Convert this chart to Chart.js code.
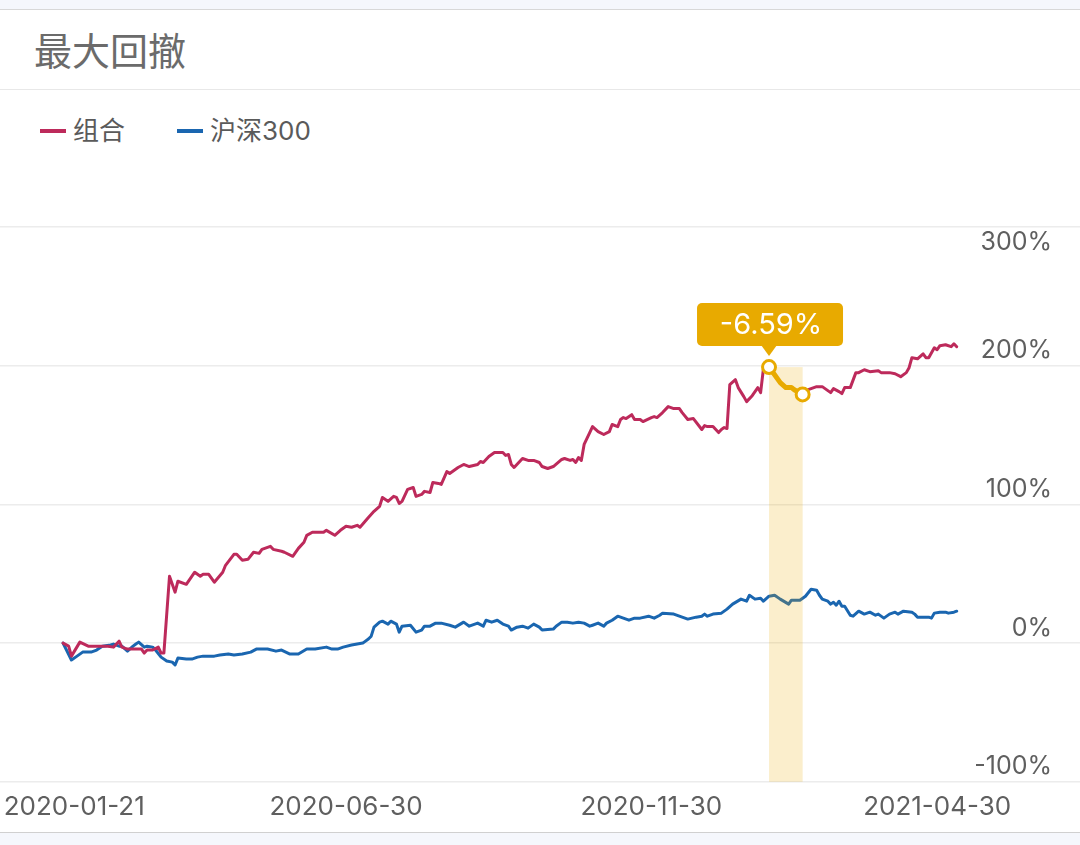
<!DOCTYPE html>
<html>
<head>
<meta charset="utf-8">
<script src="https://cdn.jsdelivr.net/npm/chart.js@4.4.0/dist/chart.umd.min.js"></script>
<style>
  html, body { margin: 0; padding: 0; background: #fff; }
  body { width: 1080px; height: 845px; position: relative; overflow: hidden;
         font-family: Inter, "Noto Sans CJK SC", sans-serif; }
  .topbar { position: absolute; left: 0; top: 0; width: 1080px; height: 9px;
            background: #f5f7fc; border-bottom: 1px solid #d8d8d8; }
  .title { position: absolute; left: 34px; top: 26px; font-size: 38px; line-height: 46px;
           color: #6b6b6b; font-family: "Noto Sans CJK SC", sans-serif; }
  .sep { position: absolute; left: 0; top: 89px; width: 1080px; height: 1px; background: #e8e8e8; }
  .legend { position: absolute; top: 113px; left: 40px; font-size: 26px; line-height: 36px; color: #5a5a5a; }
  .legend span.item { position: absolute; white-space: nowrap; }
  .legend i { display: inline-block; width: 26px; height: 4px; vertical-align: middle;
              margin-right: 7px; position: relative; top: -2px; }
  .bottombar { position: absolute; left: 0; top: 832px; width: 1080px; height: 13px;
               background: #f5f7fc; border-top: 1px solid #d0d0d0; }
  #wrap { position: absolute; left: 0; top: 180px; width: 1080px; height: 652px; }
</style>
</head>
<body>
<div class="topbar"></div>
<div class="title">最大回撤</div>
<div class="sep"></div>
<div class="legend">
  <span class="item" style="left:0"><i style="background:#bd2a5b"></i>组合</span>
  <span class="item" style="left:137px"><i style="background:#1a66b0"></i>沪深300</span>
</div>
<div id="wrap"><canvas id="chart"></canvas></div>
<div class="bottombar"></div>

<script>
// trading-day index (0 = first day) and cumulative return in %
const redDays = [
  0, 2, 3, 6, 9, 16, 18, 20, 21, 23,
  28, 29, 30, 32, 34, 35, 36, 38, 40, 41,
  44, 47, 49, 50, 52, 54, 57, 58, 61, 62,
  64, 66, 68, 70, 71, 74, 75, 78, 79, 82,
  84, 86, 87, 89, 93, 94, 97, 99, 101, 103,
  105, 106, 109, 111, 113, 114, 116, 118, 119, 120,
  121, 123, 125, 126, 128, 129, 131, 132, 134, 135,
  137, 138, 141, 143, 145, 148, 149, 150, 152, 154,
  157, 158, 159, 160, 161, 164, 166, 168, 170, 171,
  173, 175, 178, 179, 181, 182, 183, 184, 185, 186,
  188, 189, 191, 193, 195, 196, 198, 199, 200, 201,
  203, 204, 206, 207, 210, 211, 212, 214, 216, 218,
  220, 221, 223, 225, 228, 229, 230, 232, 234, 235,
  236, 237, 238, 240, 241, 243, 244, 246, 247, 248,
  249, 250, 251, 252, 254, 256, 258, 260, 261, 264,
  266, 269, 271, 274, 275, 277, 278, 279, 281, 283,
  284, 286, 288, 291, 292, 295, 297, 299, 301, 302,
  303, 305, 307, 308, 309, 311, 312, 313, 315, 317,
  318, 319
];
const redValues = [
  0, -2.2, -9.4, 0.7, -2.2, -2.2, -2.9, 1.4, -2.9, -4.3,
  -4.3, -7.2, -5.0, -5.0, -2.9, -7.2, -7.2, 48.2, 36.7, 44.6,
  42.4, 51.1, 48.2, 49.6, 49.6, 43.9, 51.1, 56.1, 64.0, 64.0,
  59.7, 60.4, 65.5, 64.7, 67.6, 69.8, 67.6, 66.2, 65.5, 62.6,
  68.3, 72.7, 77.7, 79.9, 79.9, 81.3, 77.7, 81.3, 84.2, 83.5,
  84.9, 83.5, 90.6, 95.0, 98.6, 105.0, 102.2, 105.8, 105.0, 100.7,
  102.2, 110.8, 112.2, 105.8, 107.2, 109.4, 108.6, 115.8, 115.1, 114.4,
  123.7, 122.3, 126.6, 128.8, 127.3, 128.8, 130.9, 130.2, 134.5, 137.4,
  137.4, 135.3, 136.0, 128.8, 126.6, 133.1, 131.7, 131.7, 130.2, 127.3,
  125.9, 127.3, 132.4, 133.1, 131.7, 132.4, 130.2, 133.8, 131.7, 143.2,
  151.8, 156.1, 152.5, 150.4, 152.5, 157.6, 156.1, 161.2, 162.6, 161.9,
  164.7, 161.2, 161.2, 159.7, 162.6, 163.3, 162.6, 166.2, 170.5, 169.1,
  169.1, 166.2, 161.2, 161.9, 154.0, 156.8, 156.1, 156.1, 151.8, 154.0,
  155.4, 154.7, 186.3, 189.9, 184.2, 177.7, 174.1, 178.4, 181.3, 184.2,
  180.6, 197.8, 197.8, 199.0, 193.5, 187.8, 184.2, 184.2, 182.7, 179.3,
  182.7, 184.9, 184.9, 180.6, 183.5, 181.3, 179.9, 184.2, 184.2, 195.0,
  195.0, 197.1, 195.7, 196.4, 195.0, 195.0, 194.2, 192.1, 195.0, 198.6,
  205.8, 205.0, 208.6, 205.8, 205.8, 212.9, 211.5, 214.4, 215.1, 213.7,
  215.8, 213.7
];
const blueDays = [
  0, 3, 5, 7, 10, 12, 14, 17, 18, 20,
  21, 23, 25, 26, 27, 29, 30, 32, 33, 35,
  37, 39, 40, 41, 44, 46, 48, 50, 54, 56,
  59, 61, 64, 67, 69, 73, 76, 78, 81, 84,
  87, 90, 94, 96, 98, 100, 103, 105, 107, 109,
  110, 111, 113, 114, 116, 117, 119, 120, 121, 124,
  126, 128, 129, 131, 133, 135, 138, 140, 143, 145,
  148, 150, 151, 153, 155, 157, 159, 160, 162, 164,
  166, 168, 170, 171, 175, 176, 178, 180, 182, 184,
  186, 188, 189, 191, 193, 194, 196, 198, 200, 202,
  204, 206, 209, 211, 213, 214, 218, 220, 223, 226,
  228, 229, 230, 232, 235, 237, 239, 242, 244, 245,
  247, 249, 250, 252, 254, 256, 259, 260, 263, 265,
  267, 269, 270, 271, 273, 274, 275, 276, 277, 278,
  279, 281, 282, 284, 286, 288, 290, 291, 293, 295,
  297, 298, 300, 303, 304, 305, 307, 309, 310, 311,
  313, 315, 316, 318, 319
];
const blueValues = [
  0, -12.2, -9.4, -6.5, -6.5, -5.0, -2.2, -1.4, -0.7, -2.2,
  -2.2, -5.8, -2.2, -0.7, 0.7, -2.9, -2.2, -2.9, -5.0, -10.1,
  -12.9, -13.7, -15.8, -10.8, -11.5, -11.5, -10.1, -9.4, -9.4, -8.6,
  -7.9, -8.6, -7.9, -6.5, -4.3, -4.3, -5.8, -5.0, -7.9, -7.9,
  -4.3, -4.3, -2.9, -4.3, -4.3, -2.9, -1.4, -0.7, 0, 2.9,
  5.0, 11.5, 15.1, 15.8, 13.7, 15.8, 13.7, 7.9, 12.2, 12.9,
  7.9, 9.4, 12.2, 12.2, 14.4, 14.4, 12.9, 11.5, 15.1, 12.2,
  14.4, 12.2, 16.5, 15.1, 16.5, 13.7, 12.2, 9.4, 11.5, 12.2,
  10.8, 13.7, 11.5, 9.4, 10.1, 12.2, 15.1, 15.1, 14.4, 15.1,
  14.4, 12.2, 12.9, 14.4, 12.2, 14.4, 16.5, 19.4, 18.0, 16.5,
  18.0, 18.0, 19.4, 18.0, 20.1, 21.6, 20.9, 19.4, 17.3, 18.7,
  19.4, 20.9, 19.4, 20.9, 21.6, 24.5, 28.1, 31.7, 30.2, 34.5,
  31.7, 32.4, 30.2, 33.8, 34.5, 31.7, 28.1, 30.9, 30.9, 33.8,
  38.8, 38.1, 34.5, 31.7, 30.2, 28.1, 29.5, 27.3, 30.2, 26.6,
  26.6, 20.1, 19.4, 23.0, 20.9, 22.3, 20.1, 20.9, 18.0, 20.9,
  22.3, 20.9, 23.0, 22.3, 20.9, 18.7, 18.7, 18.7, 18.0, 21.6,
  22.3, 22.3, 21.6, 22.3, 23.0
];

// x axis labels and where they sit (trading-day index)
const tickDays = [4, 101, 210, 312];
const tickLabels = ["2020-01-21", "2020-06-30", "2020-11-30", "2021-04-30"];
const yTicks = [-100, 0, 100, 200, 300];

// max drawdown window of 组合
const peakDay = 252;
const troughDay = 264;

const seriesNames = ["组合", "沪深300"];

const RED = "#bd2a5b";
const BLUE = "#1a66b0";
const GOLD = "#e8aa00";

const toPoints = (days, vals) => days.map((d, i) => ({ x: d, y: vals[i] }));

const peakValue = redValues[redDays.indexOf(peakDay)];
const troughValue = redValues[redDays.indexOf(troughDay)];
const ddText = (((1 + troughValue / 100) / (1 + peakValue / 100) - 1) * 100).toFixed(2) + "%";
const ddPoints = toPoints(redDays, redValues).filter((p) => p.x >= peakDay && p.x <= troughDay);

const drawdownPlugin = {
  id: "drawdown",
  beforeDatasetDraw(chart, args) {
    if (args.index !== 2) return;
    const { ctx, scales: { x, y } } = chart;
    const x0 = x.getPixelForValue(peakDay);
    const x1 = x.getPixelForValue(troughDay);
    const yTop = y.getPixelForValue(peakValue);
    const yBot = y.getPixelForValue(yTicks[0]);
    ctx.save();
    ctx.fillStyle = "rgba(236,172,0,0.2)";
    ctx.fillRect(x0, yTop, x1 - x0, yBot - yTop);
    ctx.restore();
  },
  afterDatasetsDraw(chart) {
    const { ctx, scales: { x, y } } = chart;
    const px = x.getPixelForValue(peakDay);
    const py = y.getPixelForValue(peakValue);
    const w = 146, h = 43;
    const bx = px - w / 2 + 1, by = py - 64;
    ctx.save();
    ctx.fillStyle = GOLD;
    ctx.beginPath();
    ctx.roundRect(bx, by, w, h, 5);
    ctx.fill();
    ctx.beginPath();
    ctx.moveTo(px - 8, by + h - 1);
    ctx.lineTo(px + 8, by + h - 1);
    ctx.lineTo(px, by + h + 10);
    ctx.closePath();
    ctx.fill();
    ctx.fillStyle = "#fff";
    ctx.font = "29px Inter, sans-serif";
    ctx.textAlign = "center";
    ctx.textBaseline = "middle";
    ctx.fillText(ddText, px + 2, by + h / 2 + 1);
    ctx.restore();
  },
};

const ctx = document.getElementById("chart").getContext("2d");
new Chart(ctx, {
  type: "line",
  data: {
    datasets: [
      {
        label: seriesNames[0],
        data: toPoints(redDays, redValues),
        borderColor: RED,
        borderWidth: 3,
        pointRadius: 0,
        order: 1,
      },
      {
        label: seriesNames[1],
        data: toPoints(blueDays, blueValues),
        borderColor: BLUE,
        borderWidth: 3,
        pointRadius: 0,
        order: 2,
      },
      {
        label: "drawdown",
        data: ddPoints,
        borderColor: GOLD,
        borderWidth: 5,
        pointRadius: (c) => (c.dataIndex === 0 || c.dataIndex === ddPoints.length - 1 ? 6.5 : 0),
        pointBackgroundColor: "#fff",
        pointBorderColor: GOLD,
        pointBorderWidth: 3,
        order: 0,
      },
    ],
  },
  options: {
    responsive: true,
    maintainAspectRatio: false,
    animation: false,
    events: [],
    layout: { autoPadding: false, padding: { top: 47, bottom: 9, left: 0, right: 0 } },
    elements: { line: { borderJoinStyle: "round", borderCapStyle: "round", tension: 0 } },
    plugins: { legend: { display: false }, tooltip: { enabled: false } },
    scales: {
      x: {
        type: "linear",
        min: -22.5,
        max: 363,
        border: { display: false },
        grid: { display: true, drawOnChartArea: false, drawTicks: true, tickLength: 10, tickColor: "rgba(0,0,0,0)" },
        afterBuildTicks: (s) => { s.ticks = tickDays.map((v) => ({ value: v })); },
        afterFit: (s) => { s.paddingLeft = 0; s.paddingRight = 0; },
        ticks: {
          autoSkip: false,
          maxRotation: 0,
          padding: 0,
          color: "#5f5f5f",
          font: { family: "Inter", size: 26 },
          callback: (v) => tickLabels[tickDays.indexOf(v)],
        },
      },
      y: {
        position: "right",
        min: yTicks[0],
        max: yTicks[yTicks.length - 1],
        border: { display: false },
        grid: { color: "#ececec", lineWidth: 1.5, drawTicks: false },
        afterBuildTicks: (s) => { s.ticks = yTicks.map((v) => ({ value: v })); },
        afterFit: (s) => { s.width = 0; s.paddingTop = 0; s.paddingBottom = 0; },
        ticks: {
          mirror: true,
          padding: -28,
          color: "#5f5f5f",
          font: { family: "Inter", size: 25 },
          callback: (v) => (v === yTicks[yTicks.length - 1] ? ["", v + "%"] : [v + "%", ""]),
        },
      },
    },
  },
  plugins: [drawdownPlugin],
});
</script>
</body>
</html>
